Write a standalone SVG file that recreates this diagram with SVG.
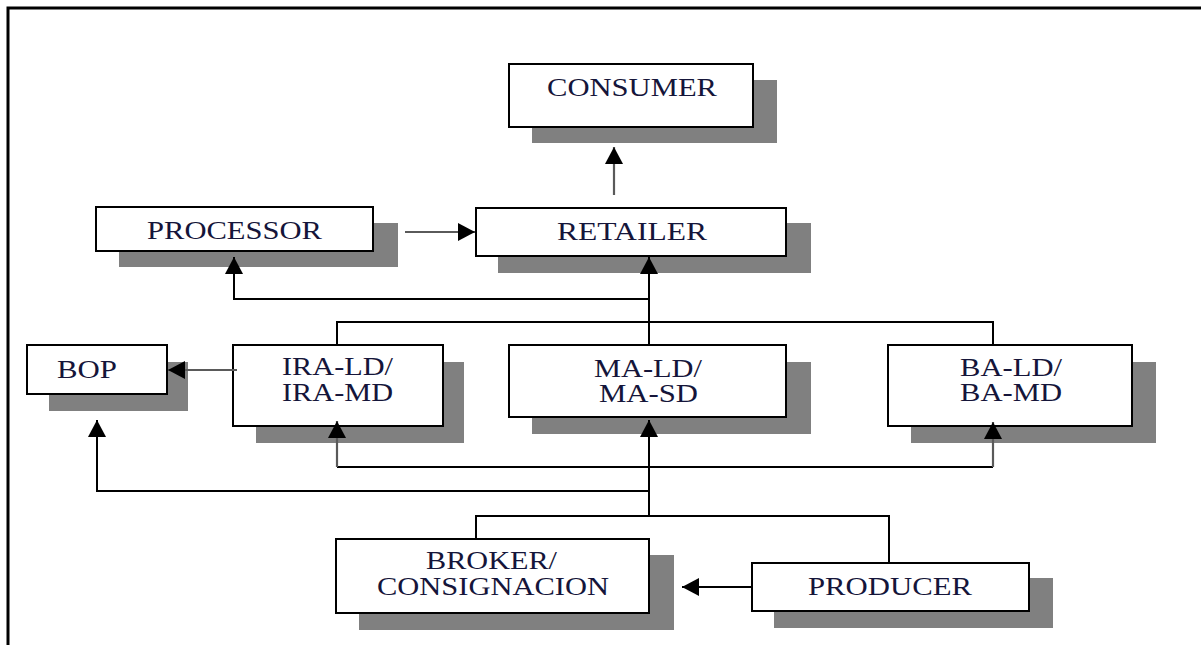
<svg xmlns="http://www.w3.org/2000/svg" width="1201" height="645" viewBox="0 0 1201 645">
<style>
.box{fill:#fff;stroke:#000;stroke-width:2}
.sh{fill:#808080}
.t{font-family:"Liberation Serif","Times New Roman",serif;font-size:25px;fill:#15153a}
.ln{fill:none;stroke:#000;stroke-width:2}
.gl{fill:none;stroke:#5a5a5a;stroke-width:2.2}
.frame{fill:none;stroke:#000;stroke-width:3}
</style>
<defs>
<marker id="ah" markerUnits="userSpaceOnUse" markerWidth="20" markerHeight="20" refX="17" refY="9" orient="auto">
<path d="M0,0 L17,9 L0,18 z" fill="#000"/>
</marker>
</defs>
<rect width="1201" height="645" fill="#fff"/>
<path class="frame" d="M8,645 V8 H1201"/>

<g id="consumer">
<rect class="sh" x="532" y="80" width="245" height="63"/>
<rect class="box" x="509" y="64" width="244" height="63"/>
<text class="t" x="547" y="96" textLength="170" lengthAdjust="spacingAndGlyphs">CONSUMER</text>
</g>

<g id="processor">
<rect class="sh" x="119" y="223" width="279" height="44"/>
<rect class="box" x="96" y="207" width="277" height="44"/>
<text class="t" x="147" y="239" textLength="175" lengthAdjust="spacingAndGlyphs">PROCESSOR</text>
</g>

<g id="retailer">
<rect class="sh" x="498" y="223" width="313" height="50"/>
<rect class="box" x="476" y="208" width="310" height="48"/>
<text class="t" x="557" y="240" textLength="150" lengthAdjust="spacingAndGlyphs">RETAILER</text>
</g>

<g id="bop">
<rect class="sh" x="49" y="362" width="139" height="49"/>
<rect class="box" x="27" y="345" width="140" height="49"/>
<text class="t" x="57" y="378" textLength="60" lengthAdjust="spacingAndGlyphs">BOP</text>
</g>

<g id="ira">
<rect class="sh" x="256" y="362" width="208" height="81"/>
<rect class="box" x="233" y="345" width="210" height="81"/>
<text class="t" x="282" y="375" textLength="111" lengthAdjust="spacingAndGlyphs">IRA-LD/</text>
<text class="t" x="282" y="401" textLength="111" lengthAdjust="spacingAndGlyphs">IRA-MD</text>
</g>

<g id="ma">
<rect class="sh" x="532" y="362" width="279" height="72"/>
<rect class="box" x="509" y="345" width="277" height="72"/>
<text class="t" x="594" y="377" textLength="108" lengthAdjust="spacingAndGlyphs">MA-LD/</text>
<text class="t" x="599" y="402" textLength="99" lengthAdjust="spacingAndGlyphs">MA-SD</text>
</g>

<g id="ba">
<rect class="sh" x="911" y="362" width="245" height="81"/>
<rect class="box" x="888" y="345" width="244" height="81"/>
<text class="t" x="960" y="376" textLength="102" lengthAdjust="spacingAndGlyphs">BA-LD/</text>
<text class="t" x="960" y="401" textLength="102" lengthAdjust="spacingAndGlyphs">BA-MD</text>
</g>

<g id="broker">
<rect class="sh" x="359" y="555" width="315" height="75"/>
<rect class="box" x="336" y="539" width="313" height="74"/>
<text class="t" x="426" y="569" textLength="131" lengthAdjust="spacingAndGlyphs">BROKER/</text>
<text class="t" x="377" y="595" textLength="232" lengthAdjust="spacingAndGlyphs">CONSIGNACION</text>
</g>

<g id="producer">
<rect class="sh" x="774" y="578" width="279" height="50"/>
<rect class="box" x="752" y="563" width="277" height="48"/>
<text class="t" x="808" y="595" textLength="164" lengthAdjust="spacingAndGlyphs">PRODUCER</text>
</g>

<g id="connectors">
<path class="gl" d="M614,195 V147" marker-end="url(#ah)"/>
<path class="gl" d="M405,232 H475" marker-end="url(#ah)"/>
<path class="ln" d="M649,299 H234 V257" marker-end="url(#ah)"/>
<path class="ln" d="M649,345 V257" marker-end="url(#ah)"/>
<path class="ln" d="M337,345 V322 H993 V345"/>
<path class="gl" d="M237,370 H168" marker-end="url(#ah)"/>
<path class="ln" d="M649,516 V420" marker-end="url(#ah)"/>
<path class="ln" d="M649,491 H97 V420" marker-end="url(#ah)"/>
<path class="ln" d="M337,467 H993"/>
<path class="gl" d="M337,467 V421" marker-end="url(#ah)"/>
<path class="gl" d="M993,467 V422" marker-end="url(#ah)"/>
<path class="ln" d="M476,539 V516 H889 V563"/>
<path class="ln" d="M752,587 H682" marker-end="url(#ah)"/>
</g>
</svg>
